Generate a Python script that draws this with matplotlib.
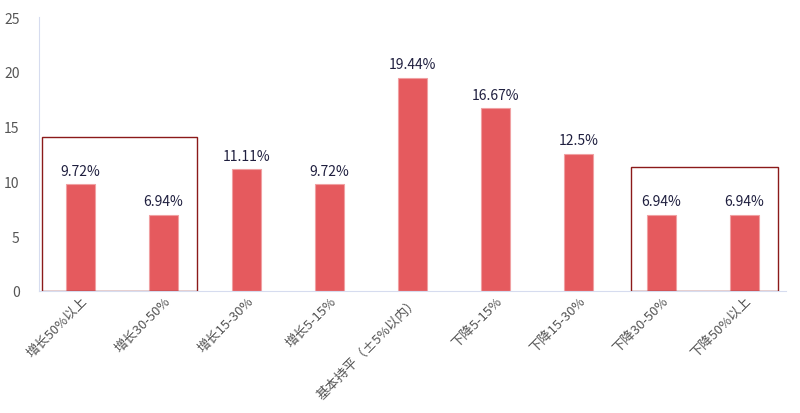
import matplotlib
matplotlib.use('Agg')
import matplotlib.pyplot as plt
from matplotlib.patches import Rectangle

plt.rcParams['font.family'] = ['Noto Sans CJK SC', 'DejaVu Sans']

# data
categories = ['增长50%以上', '增长30-50%', '增长15-30%', '增长5-15%', '基本持平（±5%以内）',
              '下降5-15%', '下降15-30%', '下降30-50%', '下降50%以上']
values = [9.72, 6.94, 11.11, 9.72, 19.44, 16.67, 12.5, 6.94, 6.94]
value_labels = ['9.72%', '6.94%', '11.11%', '9.72%', '19.44%', '16.67%', '12.5%', '6.94%', '6.94%']

fig = plt.figure(figsize=(8, 4.14), dpi=100)
ax = fig.add_axes([0.04875, 0.2947, 0.93375, 0.6618])

x = range(len(categories))
ax.bar(x, values, width=0.36, color='#e55a5e', edgecolor='#f0a0a2', linewidth=0.8, zorder=2)

for i, v in enumerate(values):
    ax.text(i, v + 0.6, value_labels[i], ha='center', va='bottom', fontsize=10, color='#1f1f3f')

# highlight boxes
ax.add_patch(Rectangle((-0.46, 0), 1.86, 14.05, fill=False, edgecolor='#8b1a1a', linewidth=1.0, zorder=3))
ax.add_patch(Rectangle((6.63, 0), 1.77, 11.3, fill=False, edgecolor='#8b1a1a', linewidth=1.0, zorder=3))

ax.set_xlim(-0.5, len(categories) - 0.5)
ax.set_ylim(0, 25)
ax.set_yticks([0, 5, 10, 15, 20, 25])
ax.set_xticks(list(x))
ax.set_xticklabels(categories, rotation=45, ha='right', rotation_mode='anchor', fontsize=9.5, color='#555555')
ax.tick_params(axis='y', length=0, labelsize=10, labelcolor='#555555', pad=14)
ax.tick_params(axis='x', length=0, pad=2)
for lbl in ax.get_xticklabels():
    lbl.set_x(lbl.get_position()[0])

for s in ['top', 'right']:
    ax.spines[s].set_visible(False)
ax.spines['left'].set_color('#d6dcef')
ax.spines['bottom'].set_color('#d6dcef')

fig.savefig('out.png', dpi=100)
